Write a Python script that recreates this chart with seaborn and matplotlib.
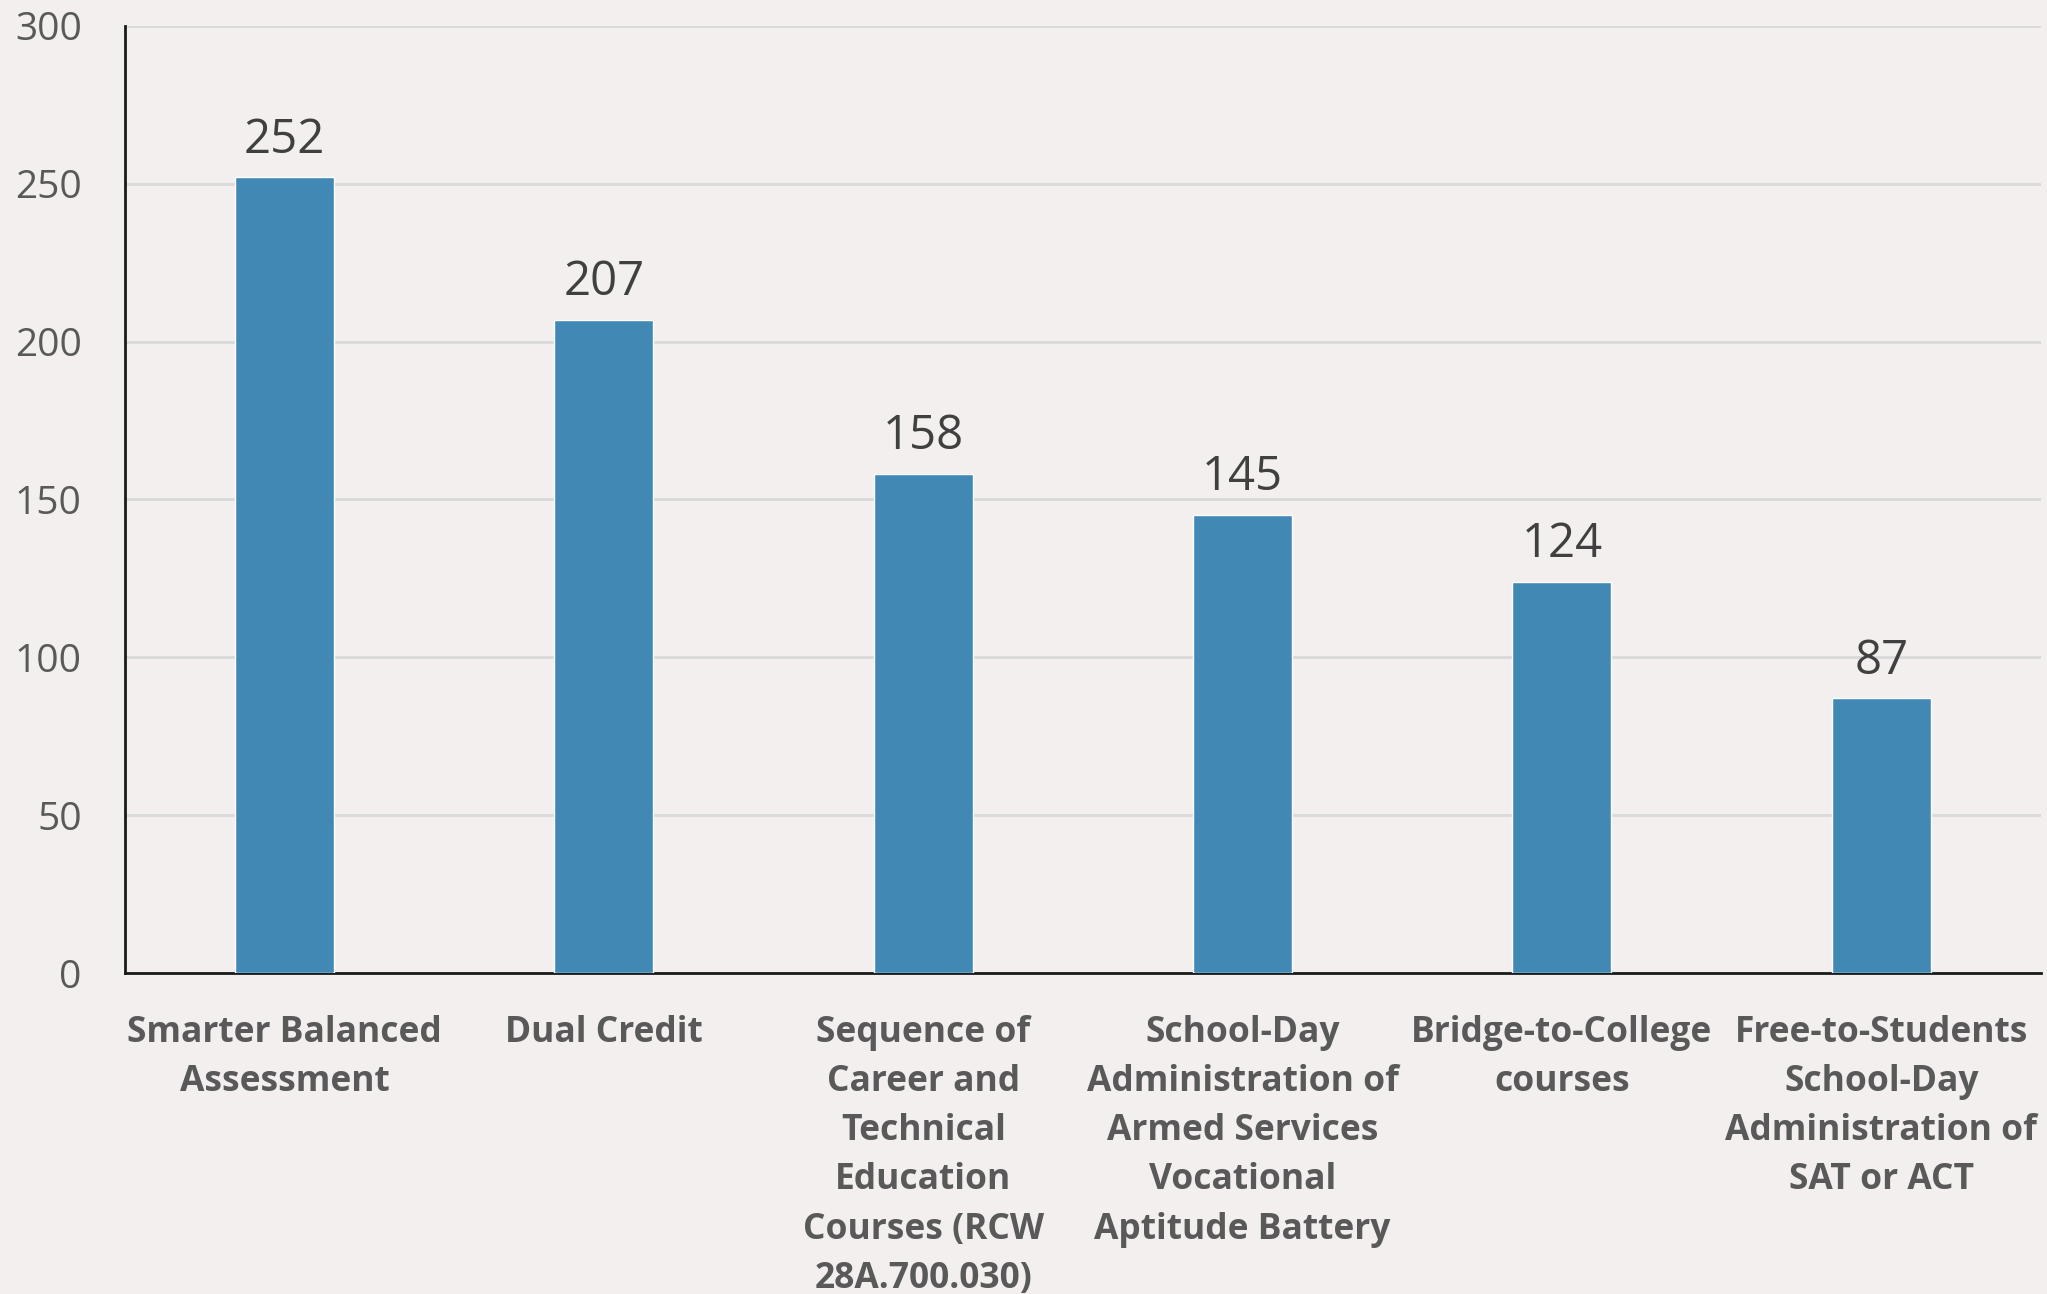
import seaborn as sns
import matplotlib.pyplot as plt
import pandas as pd

categories = [
    "Smarter Balanced\nAssessment",
    "Dual Credit",
    "Sequence of\nCareer and\nTechnical\nEducation\nCourses (RCW\n28A.700.030)",
    "School-Day\nAdministration of\nArmed Services\nVocational\nAptitude Battery",
    "Bridge-to-College\ncourses",
    "Free-to-Students\nSchool-Day\nAdministration of\nSAT or ACT",
]
counts = [252, 207, 158, 145, 124, 87]
y_ticks = [0, 50, 100, 150, 200, 250, 300]

bg = "#F2EFEE"
bar_color = "#4189B4"

sns.set_theme(style="white")
plt.rcParams['font.family'] = ['Open Sans', 'DejaVu Sans']

df = pd.DataFrame({"category": categories, "count": counts})

fig = plt.figure(figsize=(20.47, 12.94), dpi=100, facecolor=bg)
ax = fig.add_axes([0.061, 0.248, 0.936, 0.732])
ax.set_facecolor(bg)

sns.barplot(data=df, x="category", y="count", color=bar_color,
            width=0.31, saturation=1, ax=ax, zorder=3)

ax.set_ylim(0, 300)
ax.set_xlim(-0.5, 5.5)
ax.set_yticks(y_ticks)
ax.yaxis.grid(True, color="#D9D9D9", linewidth=2, zorder=0)
ax.set_axisbelow(True)

for side in ["top", "right"]:
    ax.spines[side].set_visible(False)
for side in ["left", "bottom"]:
    ax.spines[side].set_color("#1a1a1a")
    ax.spines[side].set_linewidth(2)

ax.tick_params(axis="y", length=0, pad=31, labelsize=28, labelcolor="#595959")
ax.tick_params(axis="x", length=0, pad=30, labelsize=25.5, labelcolor="#595959")
for lbl in ax.get_xticklabels():
    lbl.set_fontweight("bold")
    lbl.set_linespacing(1.49)

ax.set_xlabel("")
ax.set_ylabel("")

ax.bar_label(ax.containers[0], labels=[str(v) for v in counts],
             padding=10, fontsize=34, color="#404040")

fig.savefig("out.png", dpi=100, facecolor=bg)
